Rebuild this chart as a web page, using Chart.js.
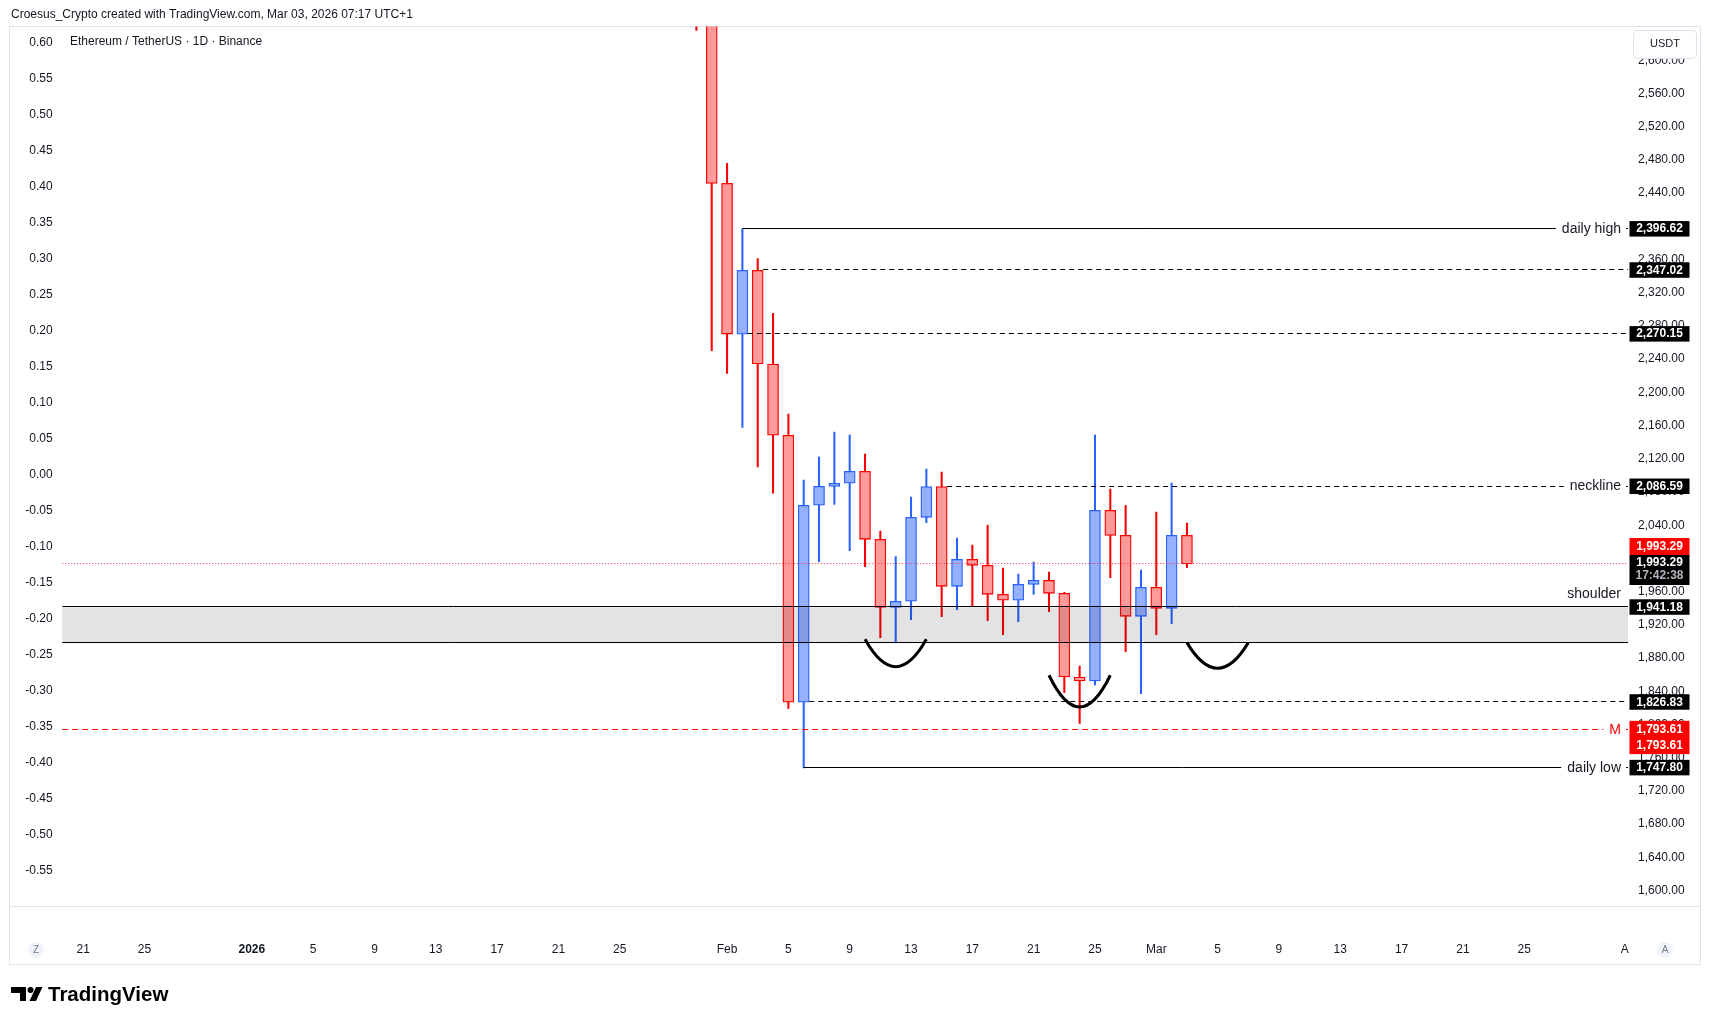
<!DOCTYPE html>
<html>
<head>
<meta charset="utf-8">
<script src="https://cdn.jsdelivr.net/npm/chart.js@4.4.1/dist/chart.umd.min.js"></script>
<style>
  html, body { margin: 0; padding: 0; background: #fff; }
  #wrap { width: 1711px; height: 1025px; }
</style>
</head>
<body>
<div id="wrap"><canvas id="ethChart" width="1711" height="1025"></canvas></div>
<script>
// ETH/USDT daily candles (Binance)
const candleDates = ['2026-01-30', '2026-01-31', '2026-02-01', '2026-02-02', '2026-02-03', '2026-02-04',
  '2026-02-05', '2026-02-06', '2026-02-07', '2026-02-08', '2026-02-09', '2026-02-10', '2026-02-11',
  '2026-02-12', '2026-02-13', '2026-02-14', '2026-02-15', '2026-02-16', '2026-02-17', '2026-02-18',
  '2026-02-19', '2026-02-20', '2026-02-21', '2026-02-22', '2026-02-23', '2026-02-24', '2026-02-25',
  '2026-02-26', '2026-02-27', '2026-02-28', '2026-03-01', '2026-03-02', '2026-03-03'];
const opens = [2705, 2690, 2451.7, 2270.15, 2347.02, 2234.2, 2148.3, 1826.83, 2064.0, 2086.8, 2090.5,
  2104.9, 2023.0, 1941.1, 1948.4, 2049.5, 2086.59, 1966.4, 1998.9, 1991.7, 1956.8, 1949.6, 1968.8,
  1973.6, 1958.0, 1857.2, 1852.4, 2057.9, 2027.8, 1930.3, 1965.2, 1939.9, 2027.8];
const highs = [2760, 2705, 2475.8, 2396.62, 2361.0, 2295.2, 2173.9, 2094.5, 2122.2, 2152.3, 2148.7,
  2125.8, 2033.0, 2002.1, 2074.0, 2107.7, 2104.1, 2024.6, 2016.2, 2040.3, 1988.5, 1981.3, 1995.7,
  1983.7, 1959.2, 1870.5, 2148.7, 2083.6, 2064.0, 1986.1, 2055.9, 2090.8, 2042.7];
const lows = [2636, 2250.2, 2222.9, 2157.9, 2110.1, 2078.6, 1819.5, 1747.80, 1996.1, 2065.2, 2009.4,
  1990.1, 1904.6, 1898.2, 1926.3, 2043.1, 1929.9, 1938.3, 1943.1, 1925.1, 1908.2, 1923.9, 1956.8,
  1935.9, 1838.4, 1801.4, 1847.6, 1976.9, 1887.7, 1837.2, 1908.2, 1921.5, 1988.9];
const closes = [2690, 2451.7, 2270.2, 2347.02, 2234.2, 2148.3, 1826.83, 2064.0, 2086.8, 2090.5, 2104.9,
  2023.0, 1941.1, 1948.4, 2049.5, 2086.59, 1966.4, 1998.9, 1991.7, 1956.8, 1949.6, 1968.8, 1973.6,
  1958.0, 1857.2, 1852.4, 2057.9, 2027.8, 1930.3, 1965.2, 1939.9, 2027.8, 1993.29];

// axis ticks
const priceTicks = [2600, 2560, 2520, 2480, 2440, 2400, 2360, 2320, 2280, 2240, 2200, 2160, 2120,
  2080, 2040, 2000, 1960, 1920, 1880, 1840, 1800, 1760, 1720, 1680, 1640, 1600];
const pctTicks = [0.60, 0.55, 0.50, 0.45, 0.40, 0.35, 0.30, 0.25, 0.20, 0.15, 0.10, 0.05, 0.00,
  -0.05, -0.10, -0.15, -0.20, -0.25, -0.30, -0.35, -0.40, -0.45, -0.50, -0.55];
const timeTickDates = ['2025-12-21', '2025-12-25', '2026-01-01', '2026-01-05', '2026-01-09', '2026-01-13',
  '2026-01-17', '2026-01-21', '2026-01-25', '2026-02-01', '2026-02-05', '2026-02-09', '2026-02-13',
  '2026-02-17', '2026-02-21', '2026-02-25', '2026-03-01', '2026-03-05', '2026-03-09', '2026-03-13',
  '2026-03-17', '2026-03-21', '2026-03-25', '2026-03-31T13:30:00Z'];
const timeTickLabels = ['21', '25', '2026', '5', '9', '13', '17', '21', '25', 'Feb', '5', '9', '13',
  '17', '21', '25', 'Mar', '5', '9', '13', '17', '21', '25', 'A'];

// drawn levels
const levelPrices = [2396.62, 2347.02, 2270.15, 2086.59, 1826.83, 1747.80];
const levelStartDates = ['2026-02-02', '2026-02-03', '2026-02-02', '2026-02-15', '2026-02-06', '2026-02-06'];
const levelNames = ['daily high', '', '', 'neckline', '', 'daily low'];
const zoneTop = 1941.18;
const zoneBottom = 1898;
const zoneName = 'shoulder';
const lastPrice = 1993.29;
const countdownText = '17:42:38';
const markPrice = 1793.61;
const markName = 'M';

// the three "cup" arcs
const arcStartDates = ['2026-02-10', '2026-02-22', '2026-03-03'];
const arcEndDates = ['2026-02-14', '2026-02-26', '2026-03-07'];
const arcTops = [1902.6, 1859.3, 1898.6];
const arcBottoms = [1869.6, 1821.1, 1867.7];

const headerText = 'Croesus_Crypto created with TradingView.com, Mar 03, 2026 07:17 UTC+1';
const symbolText = 'Ethereum / TetherUS \u00b7 1D \u00b7 Binance';

const FONT = '"Liberation Sans", Arial, sans-serif';
const TXT = '#131722';

const day0 = Date.parse('2026-01-01T00:00:00Z');
const dayOf = s => (Date.parse(s.length > 10 ? s : s + 'T00:00:00Z') - day0) / 86400000;
const fmt = p => p.toLocaleString('en-US', { minimumFractionDigits: 2, maximumFractionDigits: 2 });

const candleDays = candleDates.map(dayOf);
const isUp = closes.map((c, i) => c >= opens[i]);
const lineColor = isUp.map(u => u ? '#2962ff' : '#ff0000');
const fillColor = isUp.map(u => u ? '#94b0ff' : '#ff9a9a');

function seg(ctx, x0, x1, y, color, dash, width) {
  if (x1 <= x0) return;
  const yy = Math.round(y) - 0.5;
  ctx.save();
  ctx.strokeStyle = color;
  ctx.lineWidth = width || 1;
  ctx.setLineDash(dash);
  ctx.beginPath();
  ctx.moveTo(x0, yy);
  ctx.lineTo(x1, yy);
  ctx.stroke();
  ctx.restore();
}

function rayWithText(ctx, x0, x1, y, color, dash, text, textColor) {
  if (!text) { seg(ctx, x0, x1, y, color, dash); return; }
  ctx.font = '14px ' + FONT;
  const w = ctx.measureText(text).width;
  const tr = x1 - 7, tl = tr - w;
  seg(ctx, x0, tl - 6, y, color, dash);
  seg(ctx, tr + 5, x1, y, color, dash);
  ctx.fillStyle = textColor;
  ctx.textAlign = 'left';
  ctx.textBaseline = 'middle';
  ctx.fillText(text, tl, y);
}

function priceBox(ctx, left, top, h, bg, lines) {
  ctx.fillStyle = bg;
  ctx.fillRect(left, top, 60, h);
  ctx.font = 'bold 12px ' + FONT;
  ctx.textAlign = 'center';
  ctx.textBaseline = 'middle';
  lines.forEach(l => {
    ctx.fillStyle = l.color;
    ctx.fillText(l.text, left + 30, l.y);
  });
}

const drawings = {
  id: 'drawings',
  beforeDraw(chart) {
    const ctx = chart.ctx;
    ctx.save();
    ctx.fillStyle = '#ffffff';
    ctx.fillRect(0, 0, chart.width, chart.height);
    ctx.strokeStyle = '#e0e3eb';
    ctx.lineWidth = 1;
    ctx.strokeRect(9.5, 26.5, 1691, 938);
    ctx.beginPath();
    ctx.moveTo(10, 906.5);
    ctx.lineTo(1700, 906.5);
    ctx.stroke();
    ctx.restore();
  },
  afterDatasetsDraw(chart) {
    const ctx = chart.ctx, a = chart.chartArea;
    const X = d => chart.scales.x.getPixelForValue(d);
    const Y = p => chart.scales.y.getPixelForValue(p);
    ctx.save();
    ctx.beginPath();
    ctx.rect(a.left, a.top, a.right - a.left, a.bottom - a.top);
    ctx.clip();

    // shoulder zone
    const zt = Y(zoneTop), zb = Y(zoneBottom);
    ctx.fillStyle = 'rgba(0,0,0,0.11)';
    ctx.fillRect(a.left, zt, a.right - a.left, zb - zt);
    seg(ctx, a.left, a.right, zt, '#000', []);
    seg(ctx, a.left, a.right, zb, '#000', []);
    ctx.font = '14px ' + FONT;
    ctx.fillStyle = TXT;
    ctx.textAlign = 'right';
    ctx.textBaseline = 'middle';
    ctx.fillText(zoneName, a.right - 7, zt - 13);

    // horizontal rays
    const dashes = [[], [5, 4], [5, 4], [5, 4], [5, 4], []];
    const shift = [0, 5.5, 5.5, 5.5, 5.5, 0];
    levelPrices.forEach((p, i) => {
      const x0 = X(dayOf(levelStartDates[i])) + shift[i];
      rayWithText(ctx, x0, a.right, Y(p), '#000', dashes[i], levelNames[i], TXT);
    });

    // last price and M line
    seg(ctx, a.left, a.right, Y(lastPrice), '#f23645', [1, 2]);
    rayWithText(ctx, a.left, a.right, Y(markPrice), '#ff0000', [6, 4], markName, '#ff0000');

    // arcs
    ctx.strokeStyle = '#000';
    ctx.lineWidth = 3;
    ctx.setLineDash([]);
    arcStartDates.forEach((s, i) => {
      const x0 = X(dayOf(s)), x1 = X(dayOf(arcEndDates[i]));
      const yt = Y(arcTops[i]), yb = Y(arcBottoms[i]);
      ctx.beginPath();
      ctx.moveTo(x0, yt);
      ctx.quadraticCurveTo((x0 + x1) / 2, 2 * yb - yt, x1, yt);
      ctx.stroke();
    });
    ctx.restore();

    // price labels on the right axis
    ctx.save();
    const bx = a.right + 1.5;
    levelPrices.concat([zoneTop]).forEach(p => {
      const y = Y(p);
      priceBox(ctx, bx, y - 8, 15.5, '#000', [{ text: fmt(p), y: y, color: '#fff' }]);
    });
    const yl = Y(lastPrice);
    priceBox(ctx, bx, yl - 26, 17, '#ff0000', [{ text: fmt(lastPrice), y: yl - 17.5, color: '#fff' }]);
    priceBox(ctx, bx, yl - 9, 30, '#000', [
      { text: fmt(lastPrice), y: yl - 1, color: '#fff' },
      { text: countdownText, y: yl + 11.5, color: '#b2b5be' }]);
    const ym = Y(markPrice);
    priceBox(ctx, bx, ym - 9, 33.3, '#ff0000', [
      { text: fmt(markPrice), y: ym - 0.5, color: '#fff' },
      { text: fmt(markPrice), y: ym + 15.7, color: '#fff' }]);

    // currency button
    ctx.fillStyle = '#fff';
    ctx.strokeStyle = '#e0e3eb';
    ctx.lineWidth = 1;
    ctx.beginPath();
    ctx.roundRect(1633.5, 30.5, 63, 28, 4);
    ctx.fill();
    ctx.stroke();
    ctx.fillStyle = TXT;
    ctx.font = '11px ' + FONT;
    ctx.textAlign = 'center';
    ctx.textBaseline = 'middle';
    ctx.fillText('USDT', 1665, 44);
    ctx.restore();
  },
  afterDraw(chart) {
    const ctx = chart.ctx;
    ctx.save();
    ctx.fillStyle = TXT;
    ctx.font = '12px ' + FONT;
    ctx.textAlign = 'left';
    ctx.textBaseline = 'middle';
    ctx.fillText(headerText, 11, 14.5);
    ctx.fillText(symbolText, 70, 42);

    // Z / A buttons on the time axis
    [[36, 'Z'], [1665, 'A']].forEach(([x, t]) => {
      ctx.fillStyle = '#f0f3fa';
      ctx.beginPath();
      ctx.arc(x, 950, 8, 0, Math.PI * 2);
      ctx.fill();
      ctx.fillStyle = '#787b86';
      ctx.font = '10px ' + FONT;
      ctx.textAlign = 'center';
      ctx.fillText(t, x, 950.5);
    });

    // TradingView logo
    ctx.fillStyle = '#000';
    ctx.beginPath();
    ctx.moveTo(11, 987); ctx.lineTo(26, 987); ctx.lineTo(26, 1001); ctx.lineTo(20, 1001);
    ctx.lineTo(20, 993); ctx.lineTo(11, 993); ctx.closePath();
    ctx.fill();
    ctx.beginPath();
    ctx.arc(30.5, 990, 3, 0, Math.PI * 2);
    ctx.fill();
    ctx.beginPath();
    ctx.moveTo(36, 987); ctx.lineTo(42.5, 987); ctx.lineTo(36, 1001); ctx.lineTo(29.5, 1001); ctx.closePath();
    ctx.fill();
    ctx.font = 'bold 20.5px ' + FONT;
    ctx.textAlign = 'left';
    ctx.fillText('TradingView', 48, 995);
    ctx.restore();
  }
};

const ctx = document.getElementById('ethChart').getContext('2d');
new Chart(ctx, {
  type: 'bar',
  data: {
    datasets: [
      {
        label: 'wicks',
        data: candleDays.map((d, i) => ({ x: d, y: [lows[i], highs[i]] })),
        backgroundColor: lineColor,
        barThickness: 1.4,
        grouped: false,
        order: 2,
        clip: 0,
        yAxisID: 'y'
      },
      {
        label: 'bodies',
        data: candleDays.map((d, i) => ({ x: d, y: [opens[i], closes[i]] })),
        backgroundColor: fillColor,
        borderColor: lineColor,
        borderWidth: 1.3,
        borderSkipped: false,
        barThickness: 11,
        grouped: false,
        order: 1,
        clip: 0,
        yAxisID: 'y'
      }
    ]
  },
  options: {
    responsive: false,
    animation: false,
    events: [],
    layout: { padding: { left: 10, top: 26.5, right: 11, bottom: 60 } },
    plugins: { legend: { display: false }, tooltip: { enabled: false } },
    scales: {
      x: {
        type: 'linear',
        position: 'bottom',
        min: -12.37,
        max: 89.77,
        offset: false,
        grid: { display: false, drawTicks: false },
        border: { display: false },
        afterBuildTicks: s => { s.ticks = timeTickDates.map(d => ({ value: dayOf(d) })); },
        afterFit: s => { s.height = 59.3; },
        ticks: {
          autoSkip: false,
          maxRotation: 0,
          padding: 37,
          color: TXT,
          font: c => ({ family: FONT, size: 12, weight: (c.index === 2 ? 'bold' : 'normal') }),
          callback: (v, i) => timeTickLabels[i]
        }
      },
      pct: {
        type: 'linear',
        position: 'left',
        min: -0.5986,
        max: 0.6225,
        grid: { display: false, drawTicks: false },
        border: { display: false },
        afterBuildTicks: s => { s.ticks = pctTicks.map(v => ({ value: v })); },
        afterFit: s => { s.width = 52.2; },
        ticks: {
          autoSkip: false,
          padding: 9.5,
          color: TXT,
          font: { family: FONT, size: 12 },
          callback: v => v.toFixed(2)
        }
      },
      y: {
        type: 'linear',
        position: 'right',
        min: 1581.8,
        max: 2640.6,
        grid: { display: false, drawTicks: false },
        border: { display: false },
        afterBuildTicks: s => { s.ticks = priceTicks.map(v => ({ value: v })); },
        afterFit: s => { s.width = 72; },
        ticks: {
          autoSkip: false,
          padding: 10,
          color: TXT,
          font: { family: FONT, size: 12 },
          callback: v => fmt(v)
        }
      }
    }
  },
  plugins: [drawings]
});
</script>
</body>
</html>
